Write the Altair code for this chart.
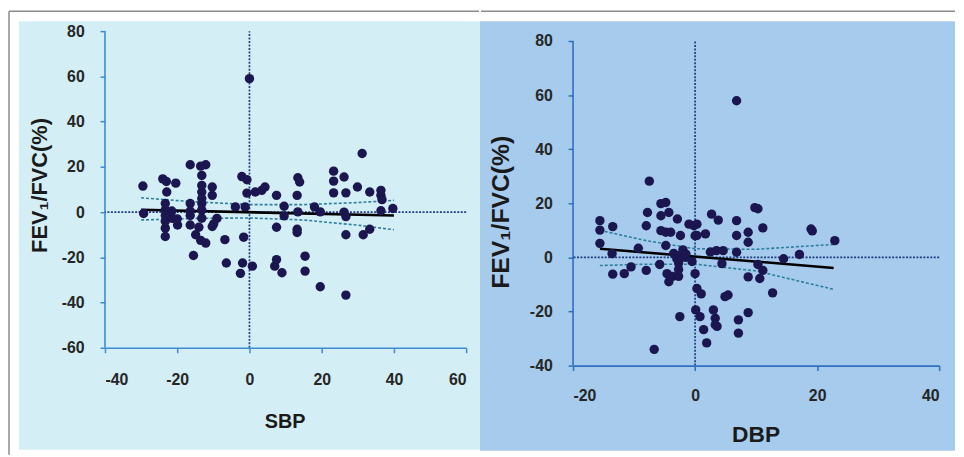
import altair as alt
import pandas as pd

# ---------------- data ----------------
sbp_x = [-29.5, -29.3, -24.0, -23.0, -20.4, -22.9, -23.3, -23.3, -23.3, -23.3, -23.3, -23.3,
         -21.3, -21.5, -19.9, -20.0, -16.4, -16.4, -16.4, -16.4, -16.4, -15.5, -13.5, -12.1,
         -13.2, -13.2, -13.2, -13.2, -10.3, -10.3, -13.2, -13.2, -13.2, -14.0, -9.0, -9.9,
         -10.3, -14.9, -13.5, -12.1, -6.8, -6.4, -1.6, -1.9, -2.5, 0.8, -2.1, -0.7, -0.7,
         -3.9, -1.2, 0.0, 31.2, 13.4, 13.9, 23.3, 23.3, 26.2, 23.3, 26.7, 29.9, 33.3, 36.4,
         36.4, 36.7, 39.7, 36.4, 1.6, 3.4, 4.3, 7.5, 13.2, 9.6, 9.6, 13.4, 18.0, 19.6, 26.2,
         26.7, 7.5, 13.2, 13.2, 26.7, 31.5, 33.3, 7.5, 7.0, 9.0, 15.4, 15.4, 19.6, 26.7]
sbp_y = [11.5, -0.6, 14.7, 13.5, 12.8, 8.9, 3.8, 1.0, -1.5, -4.0, -7.1, -10.8,
         -2.8, 0.5, -5.7, -3.0, 20.9, 3.8, 0.5, -1.5, -5.7, -19.2, 20.3, 20.9,
         16.2, 11.8, 8.9, 6.0, 11.1, 7.4, 3.8, 1.0, -2.7, -6.7, -2.8, -5.2,
         -6.4, -10.0, -12.5, -13.7, -12.2, -22.5, -11.1, -22.5, -27.1, -23.9, 15.7, 14.3, 8.4,
         2.3, 2.3, 59.0, 25.9, 15.2, 13.3, 18.1, 13.7, 15.5, 8.5, 8.5, 11.1, 8.9, 9.6,
         7.4, 5.5, 1.6, 0.6, 8.9, 9.6, 11.1, 7.4, 7.4, 2.6, -1.7, 0.1, 2.3, 0.1, 0.0,
         -2.0, -6.7, -7.6, -9.0, -10.0, -10.0, -7.6, -21.0, -23.9, -26.8, -19.5, -26.1, -33.0, -36.7]

sbp_fit_x = [-30, 40]
sbp_fit_y = [1.0, -1.5]
sbp_band_x = [-30, -15, 0, 15, 30, 40]
sbp_upper_y = [6.3, 4.5, 3.3, 3.3, 4.2, 5.2]
sbp_lower_y = [-3.5, -2.8, -2.6, -3.5, -5.8, -7.8]

dbp_x = [-7.5, -5.6, -4.8, -4.3, -5.6, -2.9, -1.0, -0.2, -7.8, -8.0, -15.6, -15.6, -13.5,
         -5.6, -4.8, -4.0, -2.4, -15.6, -13.6, -9.3, -4.8, -3.5, -2.7, -1.6, 0.0, -13.5,
         -11.6, -10.5, -8.0, -5.8, -4.6, -3.7, -2.7, -4.3, -2.7, -2.7, 0.0, 0.3, 0.1, 0.8,
         -2.5, -6.7, 9.8, 10.3, 2.7, 3.8, 6.8, 19.0, 19.2, 11.1, 8.7, 6.8, 8.7, 22.9, 17.1,
         14.5, 6.8, 4.6, 3.5, 2.5, 4.4, 10.3, 11.1, 8.7, 10.6, 12.7, 5.4, 4.9, 8.7, 3.0,
         3.3, 3.3, 3.6, 7.1, 7.1, 1.4, 1.9, 0.3, 0.3, 1.7, 1.0, 6.8, -1.5, -0.5, -3.0, -2.0]
dbp_y = [28.2, 19.9, 20.3, 16.6, 15.4, 14.2, 12.3, 11.7, 16.6, 11.7, 13.6, 10.1, 11.4,
         9.9, 9.3, 9.3, 8.1, 5.2, 1.4, 3.4, 4.4, 1.5, 0.5, 0.0, 8.0, -6.2,
         -6.0, -3.5, -4.8, -2.6, -6.0, -7.0, -7.0, -9.0, -2.1, -4.5, -6.0, -11.5, -19.4, -21.9,
         -21.9, -34.0, 18.4, 18.0, 16.0, 13.8, 13.6, 10.5, 9.8, 10.9, 9.3, 8.1, 5.6, 6.2, 1.1,
         -0.5, 1.9, 2.5, 2.5, 2.0, -2.3, -2.6, -4.8, -7.2, -7.8, -13.1, -13.9, -14.5, -20.4, -19.4,
         -22.5, -24.9, -25.5, -23.1, -28.0, -26.7, -31.6, 8.1, 12.3, 8.7, -13.5, 57.9, 1.2, -1.5, -0.5, 2.8]

dbp_fit_x = [-15.6, 22.7]
dbp_fit_y = [3.2, -3.9]
dbp_band_x = [-15.6, -8, 0, 10, 22.7]
dbp_upper_y = [10.0, 6.2, 3.2, 3.0, 4.8]
dbp_lower_y = [-3.0, -2.5, -2.5, -5.0, -11.8]

Y_TITLE = "FEV\u2081/FVC(%)"
FONT = "Liberation Sans"


def panel(px, py, fx, fy, bx, bu, bl, xdom, ydom, yscale_top, xticks, yticks, w, h,
          xtitle, bg, axis_col, deco, xlab_pad, ytitle_pos, xtitle_pos):
    pts = pd.DataFrame({"x": px, "y": py})
    fit = pd.DataFrame({"x": fx, "y": fy})
    band = pd.DataFrame({"x": bx + bx, "y": bu + bl,
                         "b": ["u"] * len(bx) + ["l"] * len(bx)})
    one = pd.DataFrame({"a": [0]})
    zx = pd.DataFrame({"x": [0], "y": [ydom[0]], "y2": [ydom[1]]})
    zy = pd.DataFrame({"y": [0]})
    yax = pd.DataFrame({"x": [xdom[0]], "y": [ydom[0]], "y2": [ydom[1]]})

    xs = alt.Scale(domain=xdom, nice=False, zero=False)
    ys = alt.Scale(domain=[ydom[0], yscale_top], nice=False, zero=False)
    common = dict(tickColor=axis_col, tickWidth=1.5, title="",
                  tickSize=5, grid=False, labelFont=FONT, labelFontWeight="bold",
                  labelFontSize=16, labelColor="#262626", zindex=1,
                  labelExpr="'' + datum.value")
    xaxis = alt.Axis(values=xticks, labelPadding=xlab_pad, domainColor=axis_col,
                     domainWidth=1.6, **common)
    yaxis = alt.Axis(values=yticks, labelPadding=16, domain=False, **common)

    (bgx1, bgx2, bgy1, bgy2, brx1, brx2, bry, bly2, has_left) = deco
    bgl = alt.Chart(one).mark_rect(color=bg).encode(
        x=alt.value(bgx1), x2=alt.value(bgx2), y=alt.value(bgy1), y2=alt.value(bgy2))
    top = alt.Chart(one).mark_rule(color="#8a8a8a", strokeWidth=1.5).encode(
        x=alt.value(brx1), x2=alt.value(brx2), y=alt.value(bry))
    layers = [bgl, top]
    if has_left:
        left = alt.Chart(one).mark_rule(color="#8a8a8a", strokeWidth=1.5).encode(
            x=alt.value(brx1), y=alt.value(bry), y2=alt.value(bly2))
        layers.append(left)

    (ytx, yty, ytsize) = ytitle_pos
    (xtx, xty, xtsize) = xtitle_pos
    ytitle = alt.Chart(one).mark_text(text=Y_TITLE, angle=270, font=FONT, fontWeight="bold",
                                      fontSize=ytsize, color="#1a1a1a", align="center",
                                      baseline="middle").encode(
        x=alt.value(ytx), y=alt.value(yty))
    xtitle_m = alt.Chart(one).mark_text(text=xtitle, font=FONT, fontWeight="bold",
                                        fontSize=xtsize, color="#1a1a1a", align="center",
                                        baseline="middle").encode(
        x=alt.value(xtx), y=alt.value(xty))

    yline = alt.Chart(yax).mark_rule(color=axis_col, strokeWidth=1.6).encode(
        x=alt.X("x:Q", scale=xs), y=alt.Y("y:Q", scale=ys), y2="y2:Q")
    rx = alt.Chart(zx).mark_rule(color="#1f3c86", strokeDash=[2, 1.5], strokeWidth=1.7).encode(
        x=alt.X("x:Q", scale=xs, axis=xaxis), y=alt.Y("y:Q", scale=ys, axis=yaxis), y2="y2:Q")
    ry = alt.Chart(zy).mark_rule(color="#1f3c86", strokeDash=[2, 1.5], strokeWidth=1.7).encode(
        y=alt.Y("y:Q", scale=ys))
    bands = alt.Chart(band).mark_line(color="#2c7f9c", strokeDash=[3, 2], strokeWidth=1.6).encode(
        x=alt.X("x:Q", scale=xs), y=alt.Y("y:Q", scale=ys), detail="b:N")
    fitl = alt.Chart(fit).mark_line(color="#000000", strokeWidth=2.6).encode(
        x=alt.X("x:Q", scale=xs), y=alt.Y("y:Q", scale=ys))
    dots = alt.Chart(pts).mark_circle(size=90, color="#1b1650", opacity=1).encode(
        x=alt.X("x:Q", scale=xs), y=alt.Y("y:Q", scale=ys))
    layers += [ytitle, xtitle_m, yline, rx, ry, bands, fitl, dots]
    return alt.layer(*layers).properties(width=w, height=h)


left = panel(sbp_x, sbp_y, sbp_fit_x, sbp_fit_y, sbp_band_x, sbp_upper_y, sbp_lower_y,
             [-40, 60], [-60, 80], 80, [-40, -20, 0, 20, 40, 60], list(range(-60, 81, 20)),
             365, 320, "SBP", "#d4eef5", "#3f8ad0",
             (-87, 379, -10, 423, -97, 378, -20, 428, True), 19,
             (-66, 156, 22), (182, 395, 20))
right = panel(dbp_x, dbp_y, dbp_fit_x, dbp_fit_y, dbp_band_x, dbp_upper_y, dbp_lower_y,
              [-20, 40], [-40, 80], 83.66, [-20, 0, 20, 40], list(range(-40, 81, 20)),
              370, 338, "DBP", "#a7cbec", "#2f6fc0",
              (-94, 386, -10, 424, -93, 386, -20, 424, False), 17,
              (-73, 183, 25), (185, 408, 23))

chart = alt.hconcat(left, right, spacing=108, bounds="flush").properties(
    padding=0, background="white"
).configure_view(strokeWidth=0)

chart.save("out.html", embed_options={"renderer": "svg", "actions": False})
